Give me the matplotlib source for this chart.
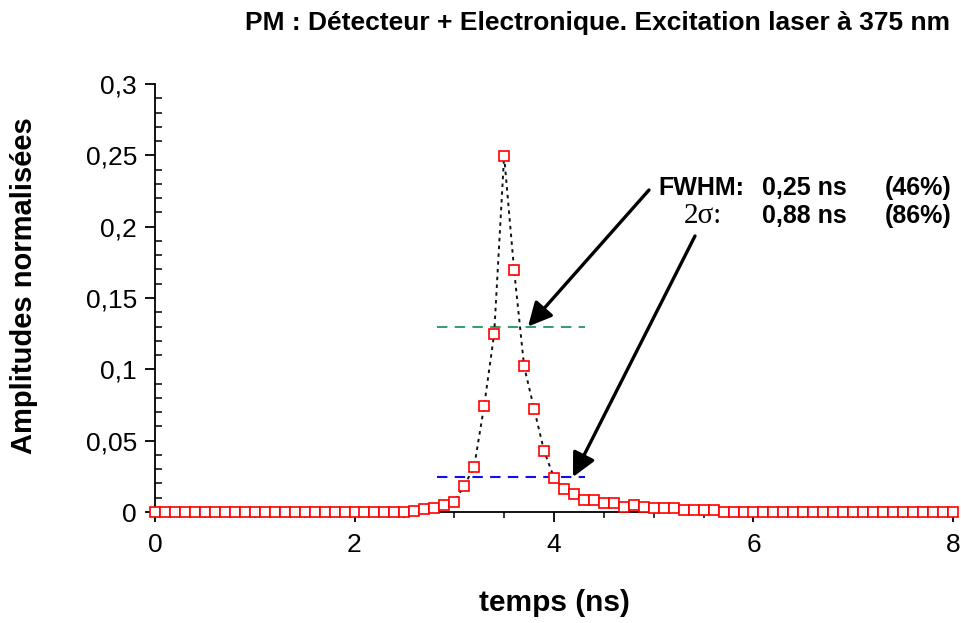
import numpy as np
import matplotlib
matplotlib.use("Agg")
import matplotlib.pyplot as plt
from matplotlib.ticker import FuncFormatter, MultipleLocator

plt.rcParams['font.family'] = ['Liberation Sans', 'DejaVu Sans']

# time axis (ns), one sample every 0.1 ns
temps = np.round(np.arange(0, 81) * 0.1, 1)

# normalised amplitudes
amp = ([0.0002] * 26 +
       [0.0007, 0.0019, 0.0028, 0.0049, 0.0072, 0.0184, 0.0318, 0.0745,
        0.1248, 0.2495, 0.1696, 0.1023, 0.0724, 0.0430, 0.0240, 0.0163,
        0.0127, 0.0084, 0.0084, 0.0061, 0.0061, 0.0037, 0.0049, 0.0037,
        0.0026, 0.0026, 0.0026, 0.0014, 0.0014, 0.0014, 0.0016] +
       [0.0003] * 24)

# horizontal markers for FWHM and 2 sigma levels
fwhm_level = 0.13
sigma_level = 0.0245
level_x = [2.83, 4.31]

xticks = [0, 2, 4, 6, 8]
yticks = [0, 0.05, 0.1, 0.15, 0.2, 0.25, 0.3]

W, H = 962, 623
fig = plt.figure(figsize=(W / 100, H / 100), dpi=100)
ax = fig.add_axes([155 / W, 111 / H, 798 / W, 428 / H])

ax.plot(temps, amp, color='#111111', ls=(0, (1.8, 2.2)), lw=1.4, zorder=2)
ax.hlines(fwhm_level, level_x[0], level_x[1], colors='#3a9e6e', linestyles=(0, (5, 3.5)), lw=1.5, zorder=1)
ax.hlines(sigma_level, level_x[0], level_x[1], colors='#1010ee', linestyles=(0, (5, 3.5)), lw=1.5, zorder=1)
ax.plot(temps, amp, 's', mfc='white', mec='red', ms=6.5, mew=1.2, clip_on=False, zorder=3)

ax.set_xlim(0, 8)
ax.set_ylim(0, 0.3)
for s in ['top', 'right']:
    ax.spines[s].set_visible(False)
for s in ['left', 'bottom']:
    ax.spines[s].set_linewidth(1.3)

fmt = FuncFormatter(lambda v, p: f"{v:g}".replace('.', ','))
ax.set_xticks(xticks)
ax.set_yticks(yticks)
ax.xaxis.set_major_formatter(fmt)
ax.yaxis.set_major_formatter(fmt)
ax.xaxis.set_minor_locator(MultipleLocator(0.5))
ax.yaxis.set_minor_locator(MultipleLocator(0.01))
ax.tick_params(axis='x', which='major', direction='out', length=7, width=1.3, labelsize=19, pad=8)
ax.tick_params(axis='x', which='minor', direction='out', length=4, width=1.1)
ax.tick_params(axis='y', which='major', direction='out', length=7, width=1.3, labelsize=19, pad=6)
ax.tick_params(axis='y', which='minor', direction='in', length=5, width=1.1)

ax.set_xlabel('temps (ns)', fontsize=21.5, fontweight='bold')
ax.set_ylabel('Amplitudes normalisées', fontsize=21, fontweight='bold')
ax.xaxis.set_label_coords(0.5, -(603 - 512) / 428, transform=ax.transAxes)
ax.yaxis.set_label_coords(-(155 - 24) / 798, (512 - 286) / 428, transform=ax.transAxes)
ax.xaxis.label.set_va('center')
ax.yaxis.label.set_va('center')

fig.text(950 / W, 1 - 30 / H, 'PM : Détecteur + Electronique. Excitation laser à 375 nm',
         ha='right', va='baseline', fontsize=19, fontweight='bold')

# annotation block
fig.text(658 / W, 1 - 195 / H, 'FWHM:', ha='left', va='baseline', fontsize=18, fontweight='bold')
fig.text(762 / W, 1 - 195 / H, '0,25 ns', ha='left', va='baseline', fontsize=18, fontweight='bold')
fig.text(952 / W, 1 - 195 / H, '(46%)', ha='right', va='baseline', fontsize=18, fontweight='bold')
fig.text(684 / W, 1 - 223 / H, '2σ:', ha='left', va='baseline', fontsize=21,
         family=['Liberation Serif', 'DejaVu Serif'])
fig.text(762 / W, 1 - 223 / H, '0,88 ns', ha='left', va='baseline', fontsize=18, fontweight='bold')
fig.text(952 / W, 1 - 223 / H, '(86%)', ha='right', va='baseline', fontsize=18, fontweight='bold')

arrow = dict(arrowstyle='-|>', mutation_scale=36, lw=2.4, color='black', shrinkA=0, shrinkB=0)
ax.annotate('', xy=(3.74, fwhm_level), xycoords='data',
            xytext=(649 / W, 1 - 190 / H), textcoords='figure fraction', arrowprops=arrow)
ax.annotate('', xy=(4.19, sigma_level), xycoords='data',
            xytext=(695 / W, 1 - 236 / H), textcoords='figure fraction', arrowprops=arrow)

fig.savefig('out.png', dpi=100)
